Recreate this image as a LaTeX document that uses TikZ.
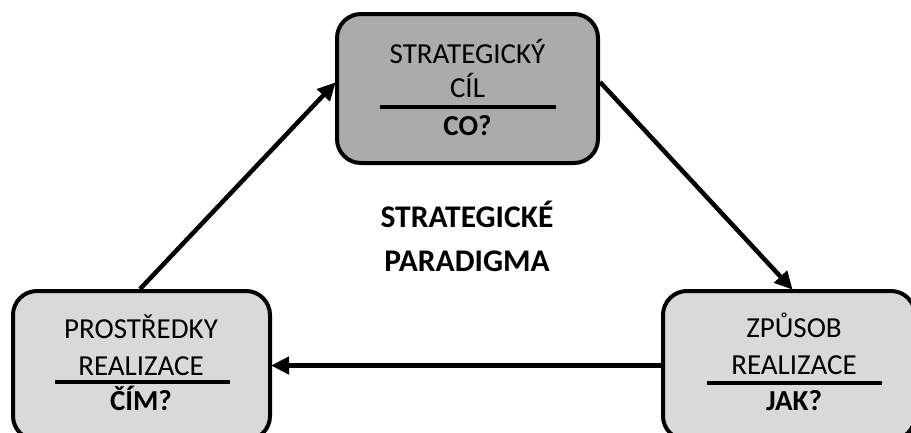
\documentclass[tikz,border=0pt]{standalone}
\usepackage{fontspec}
\setmainfont{Carlito}
\usetikzlibrary{arrows.meta,calc}
\definecolor{topgray}{HTML}{AEAAAA}
\definecolor{lowgray}{HTML}{D9D9D9}
\tikzset{
  box/.style={draw=black, line width=4pt, rounded corners=24pt, inner sep=0pt},
  lbl/.style={anchor=base, inner sep=0pt, font=\fontsize{29}{31}\selectfont},
  blbl/.style={lbl, font=\fontsize{29}{31}\selectfont\bfseries},
  clbl/.style={anchor=base, inner sep=0pt, font=\fontsize{31.5}{33}\selectfont\bfseries},
  rule/.style={line width=4pt},
  conn/.style={line width=4.5pt, -{Triangle[length=18pt,width=17pt]}, shorten >=-1pt}
}
\begin{document}
\begin{tikzpicture}[x=1pt,y=-1pt]
\useasboundingbox (0,0) rectangle (911,432);
\clip (0,0) rectangle (911,432);
% boxes
\node[box, fill=topgray, minimum width=261pt, minimum height=149pt] (tb) at (467.5,88.5) {};
\node[box, fill=lowgray, minimum width=257pt, minimum height=149pt] (lb) at (141.5,365.5) {};
\node[box, fill=lowgray, minimum width=252pt, minimum height=149pt] (rb) at (789,365.5) {};
% top box texts
\node[lbl] (t1) at (467.5,63) {STRATEGICKÝ};
\node[lbl] (t2) at (467.5,97) {CÍL};
\draw[rule] (380,107) -- (556,107);
\node[blbl] (t3) at (467.5,135) {CO?};
% left box texts
\node[lbl] (l1) at (141,338) {PROSTŘEDKY};
\node[lbl] (l2) at (141,375) {REALIZACE};
\draw[rule] (55,382) -- (230,382);
\node[blbl] (l3) at (141,410) {ČÍM?};
% right box texts
\node[lbl] (r1) at (794,337) {ZPŮSOB};
\node[lbl] (r2) at (794,374) {REALIZACE};
\draw[rule] (707,383) -- (882,383);
\node[blbl] (r3) at (794,410) {JAK?};
% center text
\node[clbl] (c1) at (467,227) {STRATEGICKÉ};
\node[clbl] (c2) at (467,271) {PARADIGMA};
% connectors
\draw[conn] ([xshift=-1.5pt]lb.north) -- ([yshift=5.5pt]tb.west);
\draw[conn] ([yshift=6.5pt]tb.east) -- ([xshift=3pt]rb.north);
\draw[conn] (rb.west) -- (lb.east);
\end{tikzpicture}
\end{document}
